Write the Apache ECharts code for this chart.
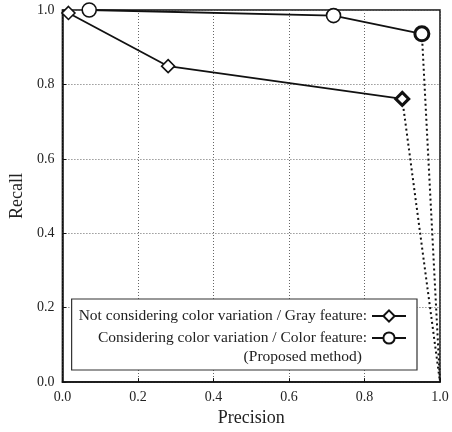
<!DOCTYPE html>
<html><head><meta charset="utf-8">
<script src="https://cdn.jsdelivr.net/npm/echarts@6/dist/echarts.min.js"></script>
<style>html,body{margin:0;padding:0;background:#fff}#c{width:452px;height:432px}</style>
</head><body><div id="c"></div>
<script>
var grayPrecision = [0.016, 0.28, 0.90];
var grayRecall = [0.992, 0.849, 0.761];
var colorPrecision = [0.071, 0.718, 0.952];
var colorRecall = [1.0, 0.985, 0.936];
var endPoint = [1.0, 0.0];
var tickValues = [0.0, 0.2, 0.4, 0.6, 0.8, 1.0];
var grayName = 'Not considering color variation / Gray feature:';
var colorName = 'Considering color variation / Color feature:';
var noteText = '(Proposed method)';

function pairs(xs, ys) { return xs.map(function (x, i) { return [x, ys[i]]; }); }
var grayData = pairs(grayPrecision, grayRecall);
var colorData = pairs(colorPrecision, colorRecall);
grayData[grayData.length - 1] = { value: grayData[grayData.length - 1], itemStyle: { borderWidth: 3 } };
colorData[colorData.length - 1] = { value: colorData[colorData.length - 1], itemStyle: { borderWidth: 3 } };
var grayTail = [pairs(grayPrecision, grayRecall)[grayPrecision.length - 1], endPoint];
var colorTail = [pairs(colorPrecision, colorRecall)[colorPrecision.length - 1], endPoint];

var FONT = 'Liberation Serif';
var chart = echarts.init(document.getElementById('c'), null, { renderer: 'canvas' });
var axisCommon = {
  type: 'value', min: 0, max: 1, interval: 0.2,
  axisLine: { show: true, lineStyle: { color: '#111', width: 1.5 } },
  axisTick: { show: true, inside: true, length: 4, lineStyle: { color: '#111' } },
  axisLabel: { fontFamily: FONT, fontSize: 14, color: '#222', formatter: function (v) { return v.toFixed(1); } },
  splitLine: { show: true, lineStyle: { type: [1, 2], color: '#666', width: 1 } },
  nameLocation: 'middle',
  nameTextStyle: { fontFamily: FONT, fontSize: 18, color: '#222' }
};
chart.setOption({
  animation: false,
  grid: { left: 60, right: 12, top: 10, bottom: 44, show: true, borderColor: '#111', borderWidth: 1.5, containLabel: false },
  xAxis: Object.assign({}, axisCommon, { name: 'Precision', nameGap: 23 }),
  yAxis: Object.assign({}, axisCommon, { name: 'Recall', nameGap: 30 }),
  legend: {
    data: [grayName, colorName],
    orient: 'vertical', align: 'right',
    right: 35, top: 299,
    itemWidth: 34, itemHeight: 14, itemGap: 6,
    padding: [9, 10, 24, 7],
    borderColor: '#333', borderWidth: 1.2, backgroundColor: '#fff',
    textStyle: { fontFamily: FONT, fontSize: 15.5, color: '#222' }
  },
  graphic: [{
    type: 'text', right: 90, top: 349, z: 100,
    style: { text: noteText, font: '15.5px "Liberation Serif"', fill: '#222' }
  }],
  series: [
    { name: grayName, type: 'line', data: grayData, symbol: 'diamond', symbolSize: 13,
      lineStyle: { color: '#111', width: 1.8 }, itemStyle: { color: '#fff', borderColor: '#111', borderWidth: 1.6 }, z: 3 },
    { name: colorName, type: 'line', data: colorData, symbol: 'circle', symbolSize: 14,
      lineStyle: { color: '#111', width: 1.8 }, itemStyle: { color: '#fff', borderColor: '#111', borderWidth: 1.6 }, z: 3 },
    { type: 'line', data: grayTail, symbol: 'none', lineStyle: { color: '#111', width: 2, type: [2, 3] }, z: 2 },
    { type: 'line', data: colorTail, symbol: 'none', lineStyle: { color: '#111', width: 2, type: [2, 3] }, z: 2 }
  ]
});
</script></body></html>
